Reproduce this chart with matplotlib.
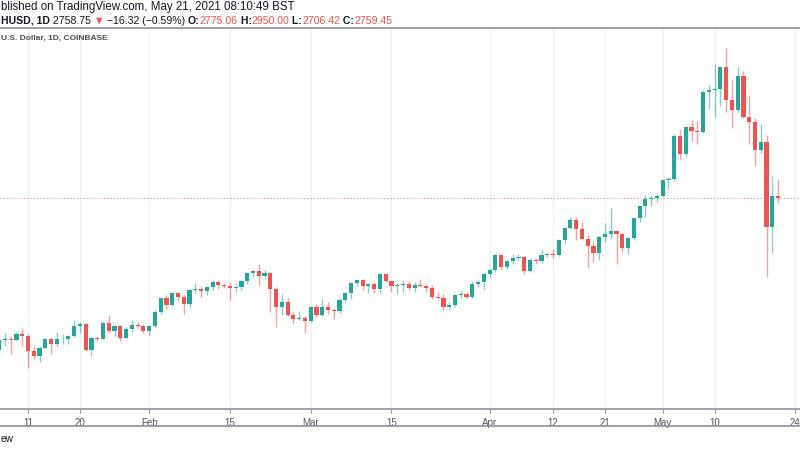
import matplotlib
matplotlib.use("Agg")
import matplotlib.pyplot as plt
import matplotlib.dates as mdates
import numpy as np
import pandas as pd
from matplotlib.lines import Line2D

# ---------------- data (ETH/USD daily, Coinbase) ----------------
start_date = "2021-01-06"
opens = [1103, 1211, 1227, 1213, 1283, 1258, 1092, 1045, 1128, 1229, 1168, 1222, 1229, 1258, 1366, 1383,
         1103, 1236, 1229, 1399, 1312, 1366, 1240, 1334, 1381, 1370,
         1312, 1370, 1514, 1670, 1594, 1724, 1680, 1608, 1753, 1770, 1742, 1789, 1843, 1814, 1803, 1778,
         1788, 1850, 1937, 1962, 1911, 1940, 1771, 1572, 1626, 1482, 1439, 1457,
         1421, 1572, 1482, 1572, 1536, 1529, 1652, 1727, 1836, 1868, 1796, 1825, 1764, 1926, 1850, 1796,
         1810, 1825, 1778, 1814, 1803, 1782, 1681, 1665, 1572, 1590, 1699, 1717, 1681, 1822, 1843,
         1926, 1973, 2139, 2006, 2071, 2103, 2114, 1962, 2085, 2067, 2132, 2150, 2136, 2295, 2428,
         2518, 2421, 2313, 2240, 2157, 2331, 2360, 2395, 2367, 2212, 2320, 2536, 2666, 2749, 2756,
         2777, 2951, 2962, 3431, 3233, 3529, 3485, 3478, 3911, 3926, 3944, 4178, 3821, 3713, 4081,
         3640, 3583, 3280, 3366, 2438, 2775.06]
highs = [1215, 1285, 1262, 1300, 1348, 1283, 1146, 1146, 1240, 1240, 1295, 1283, 1265, 1435, 1410, 1392,
         1247, 1262, 1420, 1482, 1375, 1380, 1350, 1435, 1410, 1390,
         1375, 1536, 1680, 1698, 1740, 1738, 1700, 1763, 1825, 1795, 1800, 1868, 1870, 1830, 1843, 1830,
         1865, 1945, 1975, 2041, 1977, 1950, 1790, 1717, 1673, 1520, 1525, 1470,
         1580, 1600, 1655, 1626, 1560, 1665, 1735, 1845, 1880, 1879, 1835, 1840, 1940, 1935, 1870,
         1835, 1861, 1850, 1843, 1872, 1815, 1815, 1735, 1710, 1626, 1710, 1742, 1730, 1850, 1870, 1952,
         1995, 2150, 2145, 2085, 2150, 2150, 2125, 2100, 2105, 2193, 2160, 2200, 2310, 2440,
         2545, 2547, 2500, 2350, 2285, 2345, 2482, 2645, 2400, 2375, 2330, 2545, 2675, 2790, 2790, 2800,
         2962, 2987, 3450, 3505, 3540, 3603, 3590, 3930, 3980, 4207, 4189, 4381, 4052, 4182, 4135,
         3875, 3630, 3558, 3438, 2998, 2950.00]
lows = [1065, 1145, 1060, 1200, 1150, 904, 1002, 977, 1113, 1060, 1150, 1175, 1175, 1250, 1285, 1092,
        1038, 1200, 1220, 1290, 1250, 1204, 1225, 1300, 1340, 1290,
        1265, 1350, 1500, 1547, 1580, 1640, 1493, 1565, 1720, 1680, 1700, 1760, 1764, 1780, 1651, 1740,
        1755, 1820, 1900, 1814, 1879, 1520, 1356, 1489, 1470, 1403, 1430, 1291,
        1410, 1460, 1470, 1500, 1440, 1510, 1630, 1663, 1800, 1753, 1724, 1724, 1724, 1840, 1740,
        1710, 1735, 1760, 1735, 1790, 1740, 1655, 1645, 1544, 1544, 1575, 1670, 1665, 1670, 1790, 1771,
        1900, 1955, 1977, 1990, 2040, 2080, 1934, 1950, 2040, 2055, 2110, 2100, 2125, 2265,
        2420, 2295, 2300, 1999, 2060, 2080, 2280, 2310, 2042, 2170, 2150, 2300, 2500, 2555, 2670, 2715,
        2770, 2854, 2940, 3166, 3200, 3372, 3347, 3460, 3720, 3637, 3756, 3695, 3521, 3695, 3622,
        3341, 3106, 3240, 1897, 2157, 2706.42]
closes = [1211, 1227, 1213, 1283, 1258, 1092, 1045, 1128, 1229, 1168, 1222, 1229, 1258, 1366, 1383, 1103,
          1236, 1229, 1399, 1312, 1366, 1240, 1334, 1381, 1370, 1312,
          1370, 1514, 1670, 1594, 1724, 1680, 1608, 1753, 1770, 1742, 1789, 1843, 1814, 1803, 1778, 1788,
          1850, 1937, 1962, 1911, 1940, 1771, 1572, 1626, 1482, 1439, 1457, 1421,
          1572, 1482, 1572, 1536, 1529, 1652, 1727, 1836, 1868, 1796, 1825, 1764, 1926, 1850, 1796,
          1810, 1825, 1778, 1814, 1803, 1782, 1681, 1665, 1572, 1590, 1699, 1717, 1681, 1822, 1843, 1926,
          1973, 2139, 2006, 2071, 2103, 2114, 1962, 2085, 2067, 2132, 2150, 2136, 2295, 2428,
          2518, 2421, 2313, 2240, 2157, 2331, 2360, 2395, 2367, 2212, 2320, 2536, 2666, 2749, 2756, 2777,
          2951, 2962, 3431, 3233, 3529, 3485, 3478, 3911, 3926, 3944, 4178, 3821, 3713, 4081, 3640,
          3583, 3280, 3366, 2438, 2775, 2759.45]

tick_dates = ["2021-01-11", "2021-01-20", "2021-02-01", "2021-02-15", "2021-03-01", "2021-03-15",
              "2021-04-01", "2021-04-12", "2021-04-21", "2021-05-01", "2021-05-10", "2021-05-24"]
tick_labels = ["11", "20", "Feb", "15", "Mar", "15", "Apr", "12", "21", "May", "10", "24"]
price_grid = list(range(600, 4800, 200))
last_price = 2758.75

header_line1 = "blished on TradingView.com, May 21, 2021 08:10:49 BST"
header_line2 = [("HUSD, 1D", "bold", "dark"), (" 2758.75 ", "normal", "dark"), ("\u25BC", "normal", "red"),
                (" \u221216.32 (\u22120.59%) ", "normal", "dark"), ("O:", "bold", "dark"),
                ("2775.06", "normal", "red"), (" H:", "bold", "dark"), ("2950.00", "normal", "red"),
                (" L:", "bold", "dark"), ("2706.42", "normal", "red"), (" C:", "bold", "dark"),
                ("2759.45", "normal", "red")]
pane_legend = "U.S. Dollar, 1D, COINBASE"
footer = "ew"

# ---------------- style ----------------
UP = "#26a69a"
DOWN = "#ef5350"
DARK = "#131722"
GRID = "#eef1f6"
AXISC = "#9598a1"
FONT = ["Liberation Sans", "DejaVu Sans"]

W, H = 800, 450
fig = plt.figure(figsize=(8, 4.5), dpi=100)
fig.patch.set_facecolor("white")

top_px, bot_px = 28.3, 408.7
ax = fig.add_axes([0, (H - bot_px) / H, 1, (bot_px - top_px) / H])

dates = pd.date_range(start_date, periods=len(opens), freq="D")
x = mdates.date2num(dates)
o = np.array(opens, float)
h = np.array(highs, float)
l = np.array(lows, float)
c = np.array(closes, float)
up = c >= o
cols = np.where(up, UP, DOWN)

ax.vlines(x, l, h, colors=cols, linewidth=1.0, alpha=0.55, zorder=2)
body_bottom = np.minimum(o, c)
body_h = np.maximum(np.abs(c - o), 6)
ax.bar(x, body_h, bottom=body_bottom, width=0.72, color=cols, linewidth=0, zorder=3)

x0 = mdates.date2num(pd.Timestamp("2021-01-11"))
ax.set_xlim(x0 - 4.853, x0 + 133.8)
ax.set_ylim(467, 4587)

ax.set_yticks(price_grid)
ax.yaxis.set_visible(False)
ax.grid(True, color=GRID, linewidth=1.0, zorder=0)
ax.set_axisbelow(True)

ax.set_xticks(mdates.date2num(pd.to_datetime(tick_dates)))
ax.set_xticklabels(tick_labels, fontsize=7, color="#50535e", family=FONT)
ax.tick_params(axis="x", length=3, color=AXISC, pad=3.5, width=0.8)

for s in ["top", "left", "right"]:
    ax.spines[s].set_visible(False)
ax.spines["bottom"].set_color(AXISC)
ax.spines["bottom"].set_linewidth(1.3)

ax.axhline(last_price, color=DOWN, linestyle=(0, (1, 2)), linewidth=0.8, alpha=0.7, zorder=1)

# frame lines
fig.add_artist(Line2D([0, 1], [(H - top_px) / H] * 2, color=AXISC, linewidth=1.3))
fig.add_artist(Line2D([0, 1], [(H - 426.3) / H] * 2, color=AXISC, linewidth=1.3))

# ---------------- texts ----------------
fig.text(0.001, (H - 7) / H, header_line1, fontsize=8.3, color=DARK, family=FONT, va="center", ha="left")

renderer = fig.canvas.get_renderer()
xpos = 0.001
ypos = (H - 20.5) / H
for txt, wt, colkey in header_line2:
    t = fig.text(xpos, ypos, txt, fontsize=7.6, fontweight=wt, color=(DOWN if colkey == "red" else DARK),
                 family=FONT, va="center", ha="left")
    bb = t.get_window_extent(renderer=renderer)
    xpos += bb.width / W

fig.text(0.001, (H - 38.4) / H, pane_legend, fontsize=6.0, fontweight="bold", color="#4a4d57",
         family=FONT, va="center", ha="left")
fig.text(0.001, (H - 438.5) / H, footer, fontsize=7.4, color=DARK, family=FONT, va="center", ha="left")

fig.savefig("out.png", dpi=100)
